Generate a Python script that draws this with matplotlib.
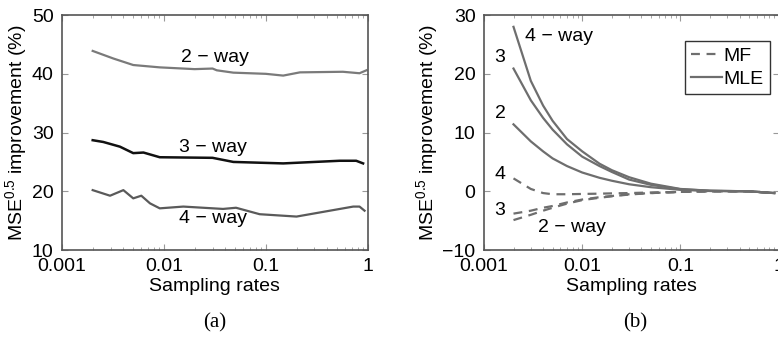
import numpy as np
import matplotlib.pyplot as plt
from matplotlib.ticker import FixedLocator, FixedFormatter, LogLocator, NullFormatter

plt.rcParams['font.family'] = ['Liberation Sans', 'DejaVu Sans']
plt.rcParams['font.size'] = 14
plt.rcParams['mathtext.fontset'] = 'custom'
plt.rcParams['mathtext.rm'] = 'Liberation Sans'
plt.rcParams['mathtext.default'] = 'rm'

# Datos panel (a)
x_2way_a = [0.002, 0.0032, 0.005, 0.0091, 0.02, 0.030, 0.033, 0.048, 0.1, 0.148, 0.216, 0.57, 0.83, 0.97]
y_2way_a = [43.9, 42.6, 41.5, 41.1, 40.8, 40.9, 40.6, 40.2, 40.0, 39.7, 40.25, 40.35, 40.1, 40.6]
x_3way_a = [0.002, 0.00254, 0.0037, 0.005, 0.0063, 0.0091, 0.03, 0.048, 0.148, 0.53, 0.77, 0.90]
y_3way_a = [28.7, 28.4, 27.6, 26.5, 26.6, 25.8, 25.7, 25.0, 24.75, 25.2, 25.2, 24.75]
x_4way_a = [0.002, 0.00296, 0.0040, 0.0050, 0.0060, 0.0073, 0.0091, 0.0155, 0.038, 0.051, 0.087, 0.20, 0.72, 0.83, 0.93]
y_4way_a = [20.2, 19.25, 20.2, 18.8, 19.25, 17.95, 17.1, 17.4, 17.0, 17.2, 16.1, 15.7, 17.4, 17.4, 16.7]

# Datos panel (b)
x_b = [0.002, 0.003, 0.004, 0.005, 0.007, 0.01, 0.015, 0.02, 0.03, 0.05, 0.1, 0.2, 0.5, 0.9]
mle_4way = [28.0, 18.8, 14.6, 12.0, 8.9, 6.8, 4.7, 3.6, 2.4, 1.3, 0.4, 0.1, 0.0, -0.3]
mle_3way = [20.9, 15.5, 12.5, 10.5, 8.0, 5.9, 4.3, 3.3, 2.0, 1.1, 0.35, 0.1, 0.0, -0.3]
mle_2way = [11.4, 8.5, 6.8, 5.6, 4.3, 3.2, 2.3, 1.8, 1.2, 0.7, 0.25, 0.05, 0.0, -0.3]
mf_4way = [2.2, 0.4, -0.3, -0.5, -0.5, -0.45, -0.4, -0.35, -0.3, -0.2, -0.1, 0.0, 0.0, -0.3]
mf_3way = [-3.8, -3.3, -2.8, -2.5, -1.9, -1.4, -1.0, -0.8, -0.5, -0.3, -0.1, 0.0, 0.0, -0.3]
mf_2way = [-4.9, -4.0, -3.3, -2.8, -2.1, -1.5, -1.1, -0.85, -0.55, -0.3, -0.1, 0.0, 0.0, -0.3]

xticks = [0.001, 0.01, 0.1, 1]
xtick_labels = ['0.001', '0.01', '0.1', '1']
gris = '#6e6e6e'

fig = plt.figure(figsize=(7.78, 3.43), dpi=100)
ax1 = fig.add_axes([0.0797, 0.271, 0.393, 0.685])
ax2 = fig.add_axes([0.622, 0.271, 0.379, 0.685])


def estilo(ax, ylim, yticks):
    ax.set_xscale('log')
    ax.set_xlim(0.001, 1)
    ax.set_ylim(*ylim)
    ax.xaxis.set_major_locator(FixedLocator(xticks))
    ax.xaxis.set_major_formatter(FixedFormatter(xtick_labels))
    ax.xaxis.set_minor_locator(LogLocator(base=10, subs=np.arange(2, 10)))
    ax.xaxis.set_minor_formatter(NullFormatter())
    ax.set_yticks(yticks)
    ax.tick_params(which='both', direction='in', top=True, right=True, color='#999999')
    ax.tick_params(which='major', length=4, pad=6)
    ax.tick_params(which='minor', length=2)
    for s in ax.spines.values():
        s.set_color('#555555')
        s.set_linewidth(1.2)
    ax.set_xlabel('Sampling rates', labelpad=2)
    ax.set_ylabel('MSE$^{0.5}$ improvement (%)', labelpad=2)


# Panel (a)
ax1.plot(x_2way_a, y_2way_a, color='#7a7a7a', lw=1.6)
ax1.plot(x_3way_a, y_3way_a, color='#111111', lw=1.8)
ax1.plot(x_4way_a, y_4way_a, color='#5a5a5a', lw=1.6)
estilo(ax1, (10, 50), [10, 20, 30, 40, 50])
ax1.text(0.032, 42.7, '2 − way', ha='center', va='center')
ax1.text(0.030, 27.4, '3 − way', ha='center', va='center')
ax1.text(0.030, 15.4, '4 − way', ha='center', va='center')

# Panel (b)
ax2.plot(x_b, mf_4way, '--', color=gris, lw=1.6, dashes=(4, 3), label='MF')
ax2.plot(x_b, mle_4way, '-', color=gris, lw=1.6, label='MLE')
ax2.plot(x_b, mle_3way, '-', color=gris, lw=1.6)
ax2.plot(x_b, mle_2way, '-', color=gris, lw=1.6)
ax2.plot(x_b, mf_3way, '--', color=gris, lw=1.6, dashes=(4, 3))
ax2.plot(x_b, mf_2way, '--', color=gris, lw=1.6, dashes=(4, 3))
estilo(ax2, (-10, 30), [-10, 0, 10, 20, 30])
ax2.text(0.0026, 26.3, '4 − way', ha='left', va='center')
ax2.text(0.00146, 22.7, '3', ha='center', va='center')
ax2.text(0.00146, 13.3, '2', ha='center', va='center')
ax2.text(0.00146, 2.8, '4', ha='center', va='center')
ax2.text(0.00146, -3.2, '3', ha='center', va='center')
ax2.text(0.0079, -6.1, '2 − way', ha='center', va='center')
leg = ax2.legend(loc='upper right', bbox_to_anchor=(0.969, 0.889), borderaxespad=0,
                 handlelength=1.6, handletextpad=0.1, fancybox=False, framealpha=1,
                 edgecolor='#333333', borderpad=0.3, labelspacing=0.3)
leg.get_frame().set_linewidth(1.0)

fig.text(0.276, 0.06, '(a)', ha='center', va='center', family='Liberation Serif', fontsize=15)
fig.text(0.816, 0.06, '(b)', ha='center', va='center', family='Liberation Serif', fontsize=15)

fig.savefig('out.png', dpi=100)
